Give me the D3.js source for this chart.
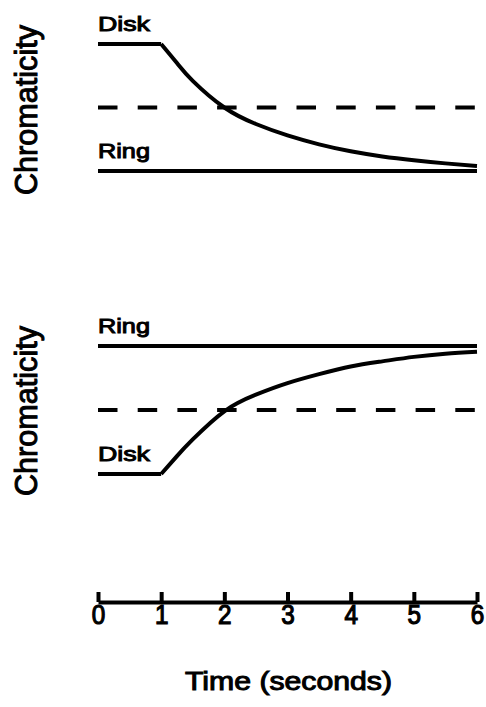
<!DOCTYPE html>
<html>
<head>
<meta charset="utf-8">
<script src="https://cdn.jsdelivr.net/npm/d3@7"></script>
<style>
  body { margin: 0; background: #fff; }
  text { font-family: "Liberation Sans", Arial, sans-serif; fill: #000; }
</style>
</head>
<body>
<script>
// time samples (seconds) and chromaticity
// 0 = lower reference line, 1 = upper reference line in each panel
const times = [0, 1, 1.25, 1.5, 2, 2.5, 3, 3.5, 4, 4.5, 5, 5.5, 6];
const diskFalling = [1, 1, 0.85, 0.71, 0.50, 0.37, 0.28, 0.21, 0.155, 0.115, 0.085, 0.06, 0.04];
const diskRising = [0, 0, 0.14, 0.27, 0.49, 0.62, 0.71, 0.78, 0.84, 0.88, 0.915, 0.94, 0.955];
const ringLevels = [0, 1];   // top panel, bottom panel
const midLevel = 0.5;
const xTicks = [0, 1, 2, 3, 4, 5, 6];

const width = 486, height = 707;

const svg = d3.select('body').append('svg')
    .attr('width', width)
    .attr('height', height);

const x = d3.scaleLinear().domain([0, 6]).range([98, 477]);

const panels = [
    { disk: diskFalling, ring: ringLevels[0], y: d3.scaleLinear().domain([0, 1]).range([171, 44]),
      labels: [{ text: 'Disk', v: 1 }, { text: 'Ring', v: 0 }], labelMid: 110 },
    { disk: diskRising, ring: ringLevels[1], y: d3.scaleLinear().domain([0, 1]).range([474, 346]),
      labels: [{ text: 'Ring', v: 1 }, { text: 'Disk', v: 0 }], labelMid: 411 }
];

panels.forEach(p => {
    const g = svg.append('g');
    const pts = times.map((t, i) => ({ t, v: p.disk[i] }));

    // ring (constant)
    g.append('line')
        .attr('x1', x(0)).attr('x2', x(6))
        .attr('y1', p.y(p.ring)).attr('y2', p.y(p.ring))
        .attr('stroke', '#000').attr('stroke-width', 4);

    // dashed midline
    g.append('line')
        .attr('x1', x(0)).attr('x2', x(6))
        .attr('y1', p.y(midLevel)).attr('y2', p.y(midLevel))
        .attr('stroke', '#000').attr('stroke-width', 4)
        .attr('stroke-dasharray', '19.5 20.2');

    // disk: hold until t=1, then smooth approach
    const hold = pts.filter(d => d.t <= 1);
    const resp = pts.filter(d => d.t >= 1);
    g.append('path')
        .attr('d', d3.line().x(d => x(d.t)).y(d => p.y(d.v))(hold))
        .attr('fill', 'none').attr('stroke', '#000').attr('stroke-width', 4);
    g.append('path')
        .attr('d', d3.line().x(d => x(d.t)).y(d => p.y(d.v)).curve(d3.curveNatural)(resp))
        .attr('fill', 'none').attr('stroke', '#000').attr('stroke-width', 4)
        .attr('stroke-linejoin', 'round');

    // line labels
    g.selectAll('text.lbl')
        .data(p.labels)
        .enter().append('text')
        .attr('class', 'lbl')
        .attr('x', x(0))
        .attr('y', d => p.y(d.v) - 13)
        .attr('font-size', 21)
        .attr('textLength', 52)
        .attr('lengthAdjust', 'spacingAndGlyphs')
        .attr('stroke', '#000').attr('stroke-width', 1)
        .text(d => d.text);

    // y title
    g.append('text')
        .attr('transform', `translate(37,${p.labelMid}) rotate(-90)`)
        .attr('text-anchor', 'middle')
        .attr('font-size', 32)
        .attr('textLength', 170)
        .attr('lengthAdjust', 'spacingAndGlyphs')
        .attr('stroke', '#000').attr('stroke-width', 1)
        .text('Chromaticity');
});

// time axis
const axis = svg.append('g')
    .attr('transform', 'translate(0,602)')
    .call(d3.axisBottom(x).tickValues(xTicks).tickSizeInner(-10).tickSizeOuter(0).tickFormat(d3.format('d')));

axis.select('.domain').attr('stroke-width', 4);
axis.selectAll('.tick line').attr('stroke-width', 4);
axis.selectAll('.tick text')
    .attr('y', 22).attr('dy', 0)
    .attr('font-size', 27)
    .attr('font-family', '"Liberation Sans", Arial, sans-serif')
    .attr('transform', 'scale(0.9,1)')
    .attr('stroke', '#000').attr('stroke-width', 1.2);

svg.append('text')
    .attr('x', x(3) + 1)
    .attr('y', 690)
    .attr('text-anchor', 'middle')
    .attr('font-size', 25)
    .attr('textLength', 207)
    .attr('lengthAdjust', 'spacingAndGlyphs')
    .attr('stroke', '#000').attr('stroke-width', 1)
    .text('Time  (seconds)');
</script>
</body>
</html>
